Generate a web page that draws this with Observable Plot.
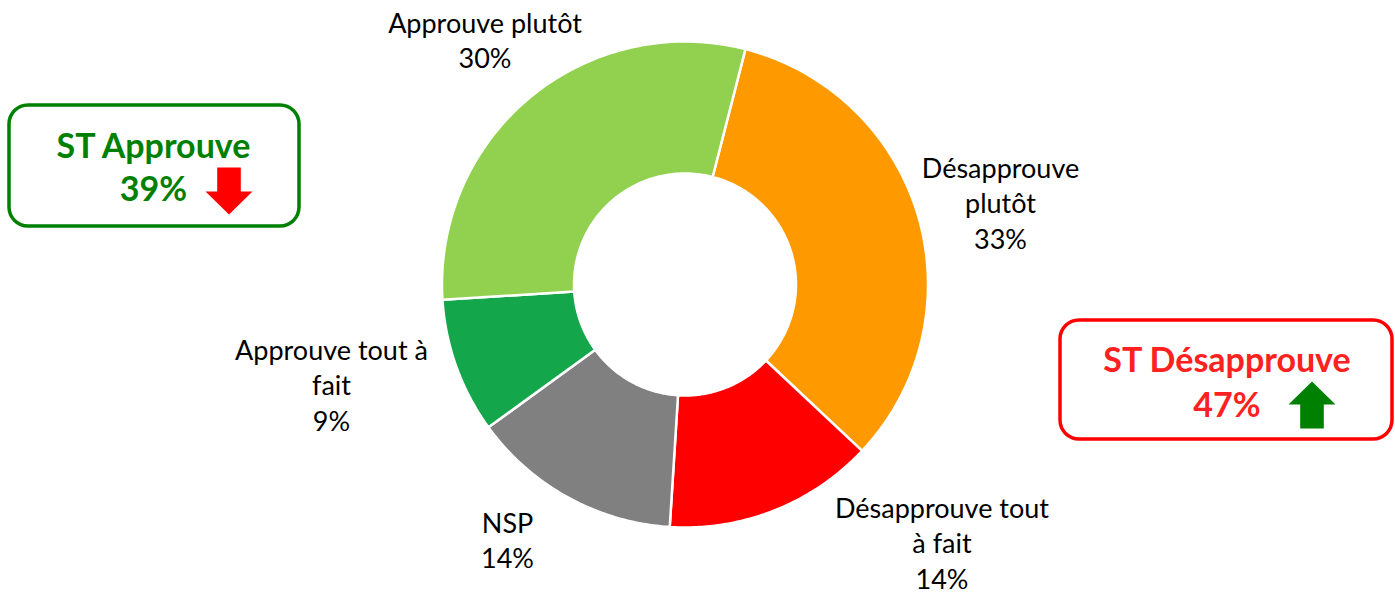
<!DOCTYPE html>
<html><head><meta charset="utf-8">
<script src="https://cdn.jsdelivr.net/npm/d3@7"></script>
<script src="https://cdn.jsdelivr.net/npm/@observablehq/plot@0.6"></script>
<style>html,body{margin:0;padding:0;background:#fff;overflow:hidden}</style>
</head><body><div id="chart"></div>
<script>
// ---- data ----
const categories = ["Désapprouve plutôt", "Désapprouve tout à fait", "NSP", "Approuve tout à fait", "Approuve plutôt"];
const values = [33, 14, 14, 9, 30];
const labelLines = ["Désapprouve\nplutôt", "Désapprouve tout\nà fait", "NSP", "Approuve tout à\nfait", "Approuve plutôt"];
const sliceColors = ["#FF9900", "#FF0000", "#808080", "#13A64A", "#92D050"];
const summaryNames = ["ST Approuve", "ST Désapprouve"];
const summaryValues = [39, 47];
const summaryTrend = ["down", "up"];

// ---- layout ----
const W = 1395, H = 595;
const cx = 684.5, cy = 284, R = 243, r0 = 111, startDeg = 14.4;
const fs = 27, lh = 35.5, bfs = 34;
const labelAnchor = [[1000, 177], [941.5, 517], [507, 532], [331, 359], [484.5, 32]]; // first baseline
const boxes = [
  {x1: 9, x2: 299, y1: 105, y2: 226, color: "#008000", text: "#008000", tx: 153, ty1: 157, ty2: 200, ax: 228.5, arrowColor: "#FF0000"},
  {x1: 1060, x2: 1392, y1: 320, y2: 439, color: "#FF0000", text: "#FF2020", tx: 1226.5, ty1: 371, ty2: 416, ax: 1311.5, arrowColor: "#008000"}
];
const arrowTop = [167, 381];

// slice polygons from values
const total = d3.sum(values);
let cum = 0;
const pts = [];
values.forEach((v, i) => {
  const a0 = (startDeg + cum / total * 360) * Math.PI / 180;
  cum += v;
  const a1 = (startDeg + cum / total * 360) * Math.PI / 180;
  const n = 80;
  for (let k = 0; k <= n; k++) {
    const a = a0 + (a1 - a0) * k / n;
    pts.push({cat: categories[i], x: cx + R * Math.sin(a), y: cy - R * Math.cos(a)});
  }
  for (let k = n; k >= 0; k--) {
    const a = a0 + (a1 - a0) * k / n;
    pts.push({cat: categories[i], x: cx + r0 * Math.sin(a), y: cy - r0 * Math.cos(a)});
  }
});

// arrow polygons
function arrowPts(i) {
  const b = boxes[i], t = arrowTop[i], up = summaryTrend[i] === "up";
  const hw = 23.5, sw = 11.8, len = 47, head = 23;
  const c = b.ax;
  let p;
  if (!up) {
    p = [[c - sw, t], [c + sw, t], [c + sw, t + len - head], [c + hw, t + len - head], [c, t + len], [c - hw, t + len - head], [c - sw, t + len - head]];
  } else {
    p = [[c, t], [c + hw, t + head], [c + sw, t + head], [c + sw, t + len], [c - sw, t + len], [c - sw, t + head], [c - hw, t + head]];
  }
  return p.map(([x, y]) => ({x, y}));
}

const idx = d3.range(categories.length);
const fullLabel = i => labelLines[i] + "\n" + values[i] + "%";
const marks = [
  Plot.line(pts, {x: "x", y: "y", z: "cat", fill: "cat", stroke: "white", strokeWidth: 2.5, curve: "linear-closed"}),
  Plot.text(idx, {
    x: i => labelAnchor[i][0],
    y: i => labelAnchor[i][1] + (fullLabel(i).split("\n").length - 1) * lh,
    text: fullLabel,
    fontSize: fs, lineHeight: lh / fs, lineAnchor: "bottom", textAnchor: "middle", fill: "#000"
  })
];
summaryNames.forEach((name, i) => {
  const b = boxes[i];
  marks.push(
    Plot.rect([i], {x1: () => b.x1, x2: () => b.x2, y1: () => b.y1, y2: () => b.y2, rx: 19, fill: "white", stroke: b.color, strokeWidth: 3.5}),
    Plot.text([i], {x: () => b.tx, y: () => b.ty1, text: () => name, fontSize: bfs, fontWeight: "bold", fill: b.text, textAnchor: "middle", lineAnchor: "bottom"}),
    Plot.text([i], {x: () => b.tx, y: () => b.ty2, text: () => summaryValues[i] + "%", fontSize: bfs, fontWeight: "bold", fill: b.text, textAnchor: "middle", lineAnchor: "bottom"}),
    Plot.line(arrowPts(i), {x: "x", y: "y", fill: b.arrowColor, stroke: "none", curve: "linear-closed"})
  );
});

const chart = Plot.plot({
  width: W, height: H, margin: 0,
  x: {domain: [0, W], range: [0, W], axis: null},
  y: {domain: [0, H], range: [0, H], axis: null},
  color: {domain: categories, range: sliceColors},
  style: {fontFamily: "Lato", background: "white", overflow: "visible"},
  marks
});
document.getElementById("chart").appendChild(chart);
</script>
</body></html>
